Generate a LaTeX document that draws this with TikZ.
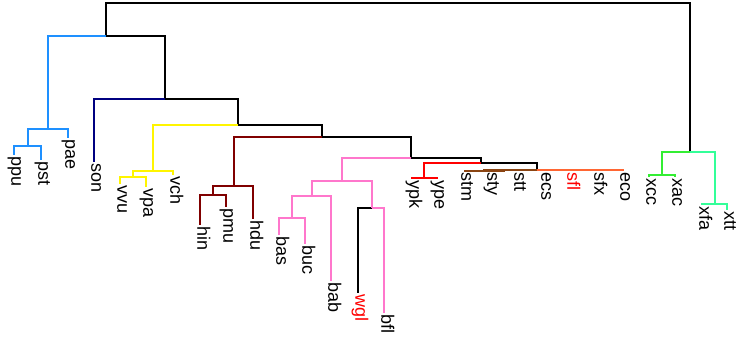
\documentclass[tikz,border=0pt]{standalone}
\usepackage{fontspec}
\setmainfont{Liberation Sans}
\definecolor{cladeblue}{RGB}{30,144,255}
\definecolor{cladenavy}{RGB}{0,0,128}
\definecolor{cladeyellow}{RGB}{255,245,0}
\definecolor{claderust}{RGB}{128,0,0}
\definecolor{cladepink}{RGB}{255,119,204}
\definecolor{cladered}{RGB}{255,0,0}
\definecolor{cladebrown}{RGB}{139,69,19}
\definecolor{cladeorange}{RGB}{255,102,51}
\definecolor{cladegreen}{RGB}{51,238,51}
\definecolor{cladespring}{RGB}{51,255,153}
\tikzset{
    branch/.style={line width=1.3pt},
    taxon/.style={rotate=-90, anchor=mid west, inner sep=1pt, font=\fontsize{18}{20}\selectfont},
}

\begin{document}
\begin{tikzpicture}[x=1pt, y=-1pt]
    \useasboundingbox (0,0) rectangle (738,341);

    \coordinate (root) at (398,3);
    \coordinate (A) at (106,36);
    \coordinate (B) at (48,129);
    \coordinate (B1) at (28,146);
    \coordinate (C) at (165,99);
    \coordinate (D) at (238,125);
    \coordinate (E) at (153,171);
    \coordinate (E1) at (133,177);
    \coordinate (F) at (322,137);
    \coordinate (G) at (234,186);
    \coordinate (G1) at (213,195);
    \coordinate (H) at (411,158);
    \coordinate (I) at (342,181);
    \coordinate (I1) at (312,196);
    \coordinate (I11) at (292,218);
    \coordinate (I2) at (372,208);
    \coordinate (J) at (481,163);
    \coordinate (L) at (424,178);
    \coordinate (K) at (537,170);
    \coordinate (M) at (484,171);
    \coordinate (M1) at (504,170);
    \coordinate (N) at (583,170);
    \coordinate (N1) at (557,170);
    \coordinate (N2) at (610,170);
    \coordinate (P) at (690,152);
    \coordinate (Q) at (662,175);
    \coordinate (R) at (715,204);

    \node[taxon] (ppu) at (14,155) {ppu};
    \node[taxon] (pst) at (41,160) {pst};
    \node[taxon] (pae) at (68,138) {pae};
    \node[taxon] (son) at (94,162) {son};
    \node[taxon] (vvu) at (120,184) {vvu};
    \node[taxon] (vpa) at (146,187) {vpa};
    \node[taxon] (vch) at (173,175) {vch};
    \node[taxon] (hin) at (200,225) {hin};
    \node[taxon] (pmu) at (226,207) {pmu};
    \node[taxon] (hdu) at (253,219) {hdu};
    \node[taxon] (bas) at (279,235) {bas};
    \node[taxon] (buc) at (305,244) {buc};
    \node[taxon] (bab) at (331,281) {bab};
    \node[taxon, text=cladered] (wgl) at (358,293) {wgl};
    \node[taxon] (bfl) at (384,313) {bfl};
    \node[taxon] (ypk) at (412,179) {ypk};
    \node[taxon] (ype) at (437,179) {ype};
    \node[taxon] (stm) at (464,171) {stm};
    \node[taxon] (sty) at (490,171) {sty};
    \node[taxon] (stt) at (517,171) {stt};
    \node[taxon] (ecs) at (544,171) {ecs};
    \node[taxon, text=cladered] (sfl) at (570,171) {sfl};
    \node[taxon] (sfx) at (597,171) {sfx};
    \node[taxon] (eco) at (623,171) {eco};
    \node[taxon] (xcc) at (649,177) {xcc};
    \node[taxon] (xac) at (675,177) {xac};
    \node[taxon] (xfa) at (702,205) {xfa};
    \node[taxon] (xtt) at (727,210) {xtt};

    \draw[branch] (root) -| (A) (root) -| (P) (A) -| (C) (C) -| (D) (D) -| (F)
        (F) -| (H) (H) -| (J) (J) -| (K) (I2) -| (wgl.mid west);
    \draw[branch, cladeblue] (A) -| (B) (B) -| (B1) (B) -| (pae.mid west)
        (B1) -| (ppu.mid west) (B1) -| (pst.mid west);
    \draw[branch, cladenavy] (C) -| (son.mid west);
    \draw[branch, cladeyellow] (D) -| (E) (E) -| (E1) (E) -| (vch.mid west)
        (E1) -| (vvu.mid west) (E1) -| (vpa.mid west);
    \draw[branch, claderust] (F) -| (G) (G) -| (G1) (G) -| (hdu.mid west)
        (G1) -| (hin.mid west) (G1) -| (pmu.mid west);
    \draw[branch, cladepink] (H) -| (I) (I) -| (I1) (I) -| (I2) (I1) -| (I11)
        (I1) -| (bab.mid west) (I11) -| (bas.mid west) (I11) -| (buc.mid west)
        (I2) -| (bfl.mid west);
    \draw[branch, cladered] (J) -| (L) (L) -| (ypk.mid west) (L) -| (ype.mid west);
    \draw[branch, cladebrown] (K) -| (M) (M) -| (stm.mid west) (M) -| (M1)
        (M1) -| (sty.mid west) (M1) -| (stt.mid west);
    \draw[branch, cladeorange] (K) -| (N) (N) -| (N1) (N) -| (N2)
        (N1) -| (ecs.mid west) (N1) -| (sfl.mid west)
        (N2) -| (sfx.mid west) (N2) -| (eco.mid west);
    \draw[branch, cladegreen] (P) -| (Q) (Q) -| (xcc.mid west) (Q) -| (xac.mid west);
    \draw[branch, cladespring] (P) -| (R) (R) -| (xfa.mid west) (R) -| (xtt.mid west);
\end{tikzpicture}
\end{document}
